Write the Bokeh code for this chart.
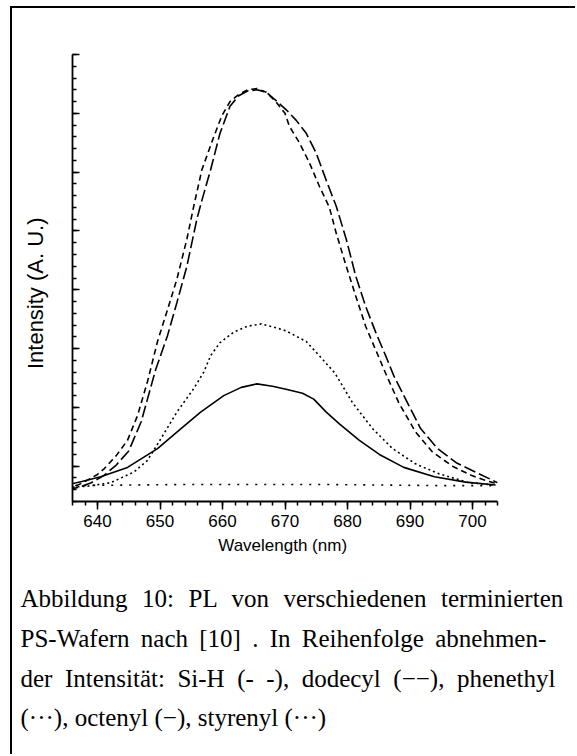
from bokeh.plotting import figure
from bokeh.models import FixedTicker, Range1d, Title, CustomLabelingPolicy
from bokeh.embed import file_html
from bokeh.resources import INLINE

# ---------------- data ----------------
# Si-H (short dashes)
sih_nm = [635.0, 636.5, 638.0, 640.0, 641.1, 643.0, 644.8, 646.4, 648.0, 649.6, 651.2, 652.7,
          654.3, 655.4, 656.7, 658.6, 659.9, 661.2, 662.6, 664.0, 665.5, 667.0, 668.5, 670.0,
          670.7, 672.3, 673.9, 675.5, 677.1, 678.2, 679.8, 681.3, 682.9, 684.5, 686.1, 688.2,
          690.9, 693.6, 696.8, 699.9, 702.0, 704.0]
sih_int = [1.1, 1.3, 1.7, 2.3, 2.8, 3.9, 5.2, 7.3, 10.2, 13.6, 16.3, 18.9,
           22.3, 25.1, 28.2, 31.0, 32.8, 34.0, 34.6, 35.0, 35.1, 34.8, 34.0, 33.0,
           31.9, 30.5, 28.8, 26.8, 25.0, 22.8, 20.0, 17.5, 14.9, 12.9, 10.9, 8.4,
           5.9, 4.2, 3.0, 2.2, 1.8, 1.5]
# dodecyl (long dashes)
dod_nm = [635.0, 637.0, 639.0, 641.0, 643.0, 645.0, 647.0, 649.3, 651.2, 652.7, 654.3, 655.9,
          656.7, 658.1, 659.6, 661.2, 662.6, 664.0, 665.5, 667.0, 668.1, 670.2, 671.8, 673.4,
          675.0, 676.6, 678.2, 679.8, 681.3, 682.9, 684.5, 686.1, 687.4, 689.3, 691.7, 694.4,
          697.4, 700.5, 704.0]
dod_int = [1.0, 1.2, 1.6, 2.2, 3.1, 4.3, 6.8, 11.2, 14.1, 16.9, 20.0, 24.0,
           25.6, 28.2, 31.3, 33.6, 34.5, 34.9, 35.0, 34.8, 34.3, 33.3, 32.4, 31.3,
           29.6, 27.3, 25.1, 22.3, 19.2, 16.6, 14.4, 12.4, 10.7, 8.7, 6.2, 4.5,
           3.3, 2.5, 1.6]
# phenethyl (dotted)
phe_nm = [635.2, 638.4, 642.1, 645.8, 648.0, 650.1, 652.7, 655.4, 657.0, 658.1, 659.6, 661.8,
          664.0, 666.2, 668.4, 670.2, 673.4, 676.0, 678.0, 680.8, 684.0, 687.2, 690.9, 694.4,
          699.4, 703.7]
phe_int = [1.2, 1.3, 1.6, 2.5, 3.5, 5.3, 7.6, 9.6, 11.0, 12.4, 13.5, 14.4,
           14.9, 15.1, 14.8, 14.5, 13.6, 12.1, 10.9, 8.4, 6.2, 4.5, 3.2, 2.4,
           1.6, 1.4]
# octenyl (solid)
oct_nm = [635.0, 637.5, 640.5, 644.8, 649.6, 652.7, 656.5, 660.2, 663.0, 665.5, 668.0, 670.5,
          672.8, 674.6, 676.6, 678.7, 681.9, 685.1, 689.0, 693.9, 698.9, 703.7]
oct_int = [1.4, 1.7, 2.1, 2.9, 4.5, 5.9, 7.6, 9.0, 9.7, 10.0, 9.8, 9.5,
           9.2, 8.7, 7.6, 6.6, 5.2, 4.0, 2.9, 2.1, 1.65, 1.4]
# styrenyl (sparse dots)
sty_nm = [635.0, 645.0, 655.0, 665.0, 675.0, 685.0, 695.0, 704.0]
sty_int = [1.35, 1.4, 1.45, 1.45, 1.45, 1.4, 1.35, 1.35]

x_major = [640, 650, 660, 670, 680, 690, 700]
x_minor = list(range(636, 705, 2))
y_major = [3, 8, 13, 18, 23, 28, 33, 38]
y_minor = list(range(0, 39))

x_title = "Wavelength  (nm)"
y_title = "Intensity (A. U.)"
caption = [
    "Abbildung 10: PL von verschiedenen terminierten",
    "PS-Wafern nach [10] . In Reihenfolge abnehmen-",
    "der Intensität: Si-H (- -), dodecyl (\u2212\u2212), phenethyl",
    "(\u00b7\u00b7\u00b7), octenyl (\u2212), styrenyl (\u00b7\u00b7\u00b7)",
]
# extra space glyph added after each word gap, to imitate the justified block
caption_pad = ["\u2004", "\u2009", "\u2005", ""]

# ---------------- layout ----------------
MX, MY, BW = 10, 6, 2            # page offset of the outer box, border width
W, H = 577 - MX - BW, 756 - MY - BW
FL, FR, FT, FB = 72, 497, 54, 502  # frame edges on the page
FL, FR, FT, FB = FL - MX - BW, FR - MX - BW, FT - MY - BW, FB - MY - BW
X0, X1 = 636.0, 704.0
Y0, Y1 = 0.0, 38.0

p = figure(width=W, height=H, x_range=Range1d(X0, X1), y_range=Range1d(Y0, Y1),
           output_backend="svg", toolbar_location=None,
           min_border_left=FL, min_border_right=W - FR,
           min_border_top=FT, min_border_bottom=H - FB)
p.margin = (MY, 0, 0, MX)
p.styles = {"border-left": f"{BW}px solid black", "border-top": f"{BW}px solid black"}
p.background_fill_color = "white"
p.border_fill_color = "white"
p.outline_line_color = None
p.xgrid.visible = False
p.ygrid.visible = False

lw = 1.6
p.line(sih_nm, sih_int, line_color="black", line_width=lw, line_dash="6 4")
p.line(dod_nm, dod_int, line_color="black", line_width=lw, line_dash="12 4")
p.line(phe_nm, phe_int, line_color="black", line_width=lw, line_dash="2 3")
p.line(oct_nm, oct_int, line_color="black", line_width=lw)
p.line(sty_nm, sty_int, line_color="black", line_width=lw, line_dash="2 7")

# axes
xa = p.xaxis[0]
xa.ticker = FixedTicker(ticks=x_major, minor_ticks=x_minor)
xa.axis_label = x_title
xa.axis_line_width = 1.8
xa.major_tick_line_width = 1.5
xa.minor_tick_line_width = 1.5
xa.major_tick_out = 8
xa.major_tick_in = 0
xa.minor_tick_out = 4
xa.minor_tick_in = 0
xa.major_label_text_font = "Liberation Sans"
xa.major_label_text_font_size = "17px"
xa.major_label_text_color = "black"
xa.axis_label_text_font = "Liberation Sans"
xa.axis_label_text_font_size = "17px"
xa.axis_label_text_font_style = "normal"
xa.axis_label_text_color = "black"
xa.major_label_standoff = 5
xa.axis_label_standoff = 6

ya = p.yaxis[0]
ya.ticker = FixedTicker(ticks=y_major, minor_ticks=y_minor)
ya.axis_label = y_title + "\u00a0" * 5
ya.axis_line_width = 1.8
ya.major_tick_line_width = 1.5
ya.minor_tick_line_width = 1.5
ya.major_tick_in = 7
ya.major_tick_out = 0
ya.minor_tick_in = 4
ya.minor_tick_out = 0
ya.major_label_policy = CustomLabelingPolicy(code="return []")
ya.major_label_text_font_size = "0px"
ya.major_label_standoff = 0
ya.axis_label_text_font = "Liberation Sans"
ya.axis_label_text_font_size = "22px"
ya.axis_label_text_font_style = "normal"
ya.axis_label_text_color = "black"
ya.axis_label_standoff = 25

# caption block as one multi-line title below the axis
lines = [(" " + pad).join(line.split(" ")) if pad else line
         for line, pad in zip(caption, caption_pad)]
cap = Title(text="\n".join(lines), align="left", offset=20 - 72, standoff=50,
            text_font="Liberation Serif", text_font_size="25px", text_line_height=1.48,
            text_font_style="normal", text_color="black")
p.add_layout(cap, "below")

open("out.html", "w").write(file_html(p, INLINE))
